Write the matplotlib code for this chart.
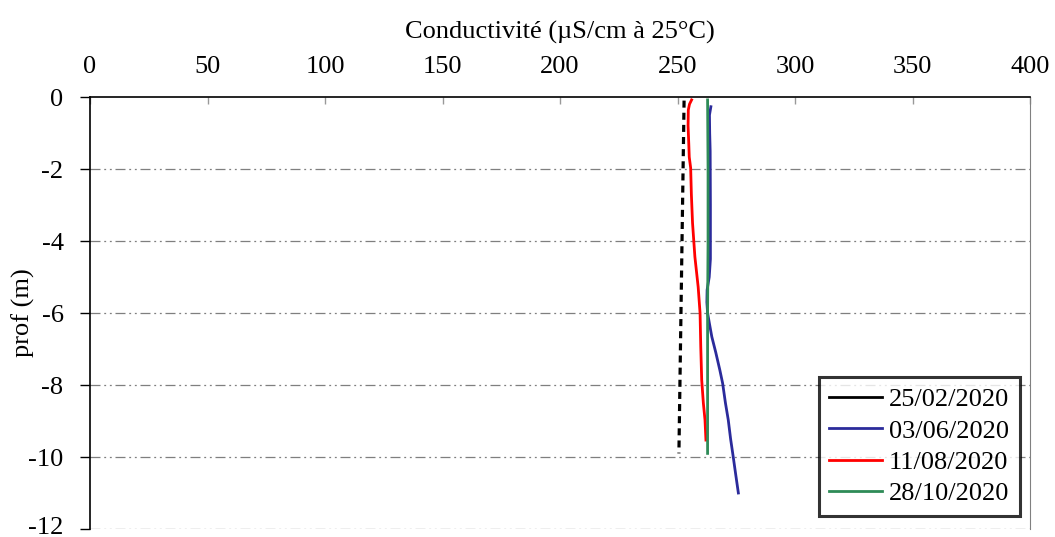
import matplotlib
matplotlib.use("Agg")
import matplotlib.pyplot as plt
import matplotlib.transforms as mtransforms

plt.rcParams['font.family'] = ['Liberation Serif', 'DejaVu Serif']

# Data
d_0225 = [-0.1, -9.9]
c_0225 = [252.8, 250.6]

d_0606 = [-0.27, -0.5, -1.0, -1.5, -3.0, -4.5, -5.0, -5.36, -5.7, -6.0, -6.3, -6.66, -7.1, -7.58, -7.95, -8.5, -8.97, -9.5, -9.99, -10.5, -11.0]
c_0606 = [264.2, 263.6, 263.7, 263.9, 264.0, 264.0, 263.5, 262.6, 262.5, 262.8, 263.6, 264.6, 266.3, 268.0, 269.2, 270.4, 271.6, 272.6, 273.7, 274.8, 275.9]

d_1108 = [-0.08, -0.2, -0.36, -0.8, -1.3, -1.67, -1.97, -2.7, -3.5, -4.44, -5.28, -6.0, -6.94, -7.86, -8.5, -8.97, -9.53]
c_1108 = [256.0, 255.1, 254.6, 254.5, 254.8, 255.0, 255.6, 255.9, 256.4, 257.4, 258.8, 259.6, 259.9, 260.3, 261.0, 261.7, 262.1]

d_2810 = [-0.08, -2.0, -4.0, -6.0, -8.0, -9.9]
c_2810 = [262.8, 263.0, 263.0, 262.8, 262.8, 262.8]

labels = ['25/02/2020', '03/06/2020', '11/08/2020', '28/10/2020']
xticks = [0, 50, 100, 150, 200, 250, 300, 350, 400]
yticks = [0, -2, -4, -6, -8, -10, -12]

FS = 19

fig = plt.figure(figsize=(10.55, 5.37), dpi=100)
ax = fig.add_axes([90/1055, 1-529/537, 940/1055, 432/537])

ax.plot(c_0225, d_0225, color='black', lw=2.3, ls=(0, (2.2, 1.6)), label=labels[0])
ax.plot(c_0606, d_0606, color='#2b2b9b', lw=2.0, label=labels[1])
ax.plot(c_1108, d_1108, color='#ff0000', lw=2.0, label=labels[2])
ax.plot(c_2810, d_2810, color='#2e8b57', lw=2.0, label=labels[3])

ax.set_xlim(0, 400)
ax.set_ylim(-12, 0)
ax.set_xticks(xticks)
ax.set_yticks(yticks)
ax.set_yticklabels([str(v) for v in yticks])

ax.xaxis.tick_top()
ax.xaxis.set_label_position('top')
ax.tick_params(axis='x', direction='in', length=5, labelsize=FS, pad=14, width=1.0, color='#999999')
ax.tick_params(axis='y', direction='out', length=7, labelsize=FS, pad=12, width=1.0)
ax.set_xlabel('Conductivité (µS/cm à 25°C)', fontsize=FS, labelpad=12)
ax.set_ylabel('prof (m)', fontsize=FS)
ax.yaxis.set_label_coords(-0.058, 0.5)

# keep the bottom tick label inside the figure
lbl = ax.get_yticklabels()[-1]
lbl.set_transform(lbl.get_transform() + mtransforms.ScaledTranslation(0, 4/100, fig.dpi_scale_trans))

for v in [-2, -4, -6, -8, -10, -12]:
    ax.axhline(v, color='#7f7f7f', lw=0.9, ls=(0, (8, 3, 1.5, 3, 1.5, 3)), zorder=0)

ax.spines['left'].set_color('black')
ax.spines['left'].set_linewidth(1.2)
ax.spines['top'].set_color('black')
ax.spines['top'].set_linewidth(1.2)
ax.spines['right'].set_color('#808080')
ax.spines['right'].set_linewidth(0.8)
ax.spines['bottom'].set_visible(False)

leg = ax.legend(loc='lower right', bbox_to_anchor=(0.989, 0.03), fontsize=FS,
                frameon=True, fancybox=False, shadow=False, borderpad=0.4,
                handlelength=2.0, handletextpad=0.25, labelspacing=0.3, borderaxespad=0)
leg.get_frame().set_edgecolor('black')
leg.get_frame().set_linewidth(2.2)
for h in leg.get_lines():
    h.set_linestyle('-')
    h.set_linewidth(2.0)

fig.savefig('out.png', dpi=100)
